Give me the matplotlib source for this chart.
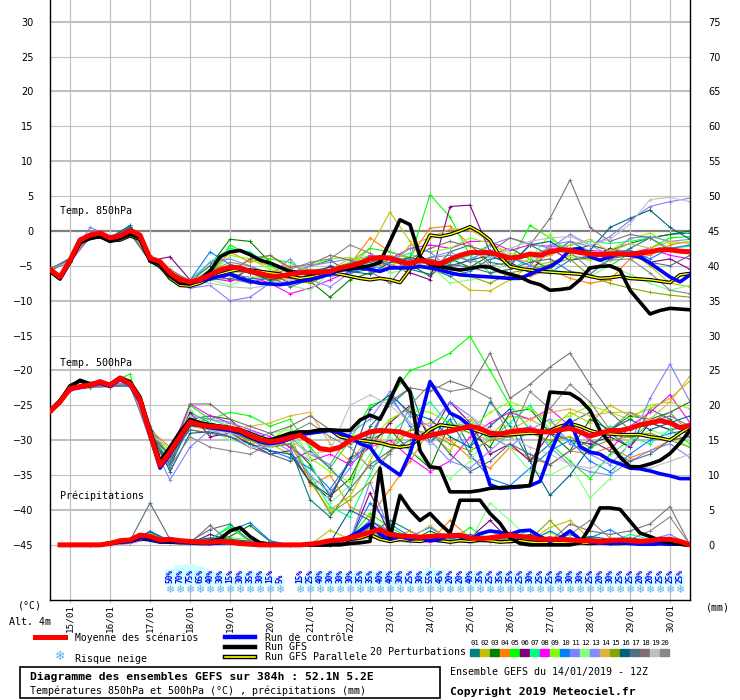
import numpy as np
import matplotlib
matplotlib.use("Agg")
import matplotlib.pyplot as plt
from matplotlib.lines import Line2D
from matplotlib.patches import Rectangle

# time axis (hours from 14/01 12Z)
hours = list(range(0, 385, 6))          # main runs, 6h
hours_p = list(range(6, 385, 6))        # precip of main runs
hours_m = list(range(0, 385, 12))       # perturbations, 12h
hours_mp = list(range(12, 385, 12))     # perturbation precip
date_labels = ["15/01", "16/01", "17/01", "18/01", "19/01", "20/01", "21/01", "22/01",
               "23/01", "24/01", "25/01", "26/01", "27/01", "28/01", "29/01", "30/01"]
date_hours = [12 + 24 * k for k in range(16)]

# ---- 850 hPa ----
t850_mean = [-5.5, -6.6, -4.2, -1.3, -0.6, -0.3, -1.0, -0.7, 0.1, -0.6, -3.9, -4.4, -6.0, -7.0, -7.3, -7.0,
             -6.3, -5.6, -5.2, -5.3, -5.8, -6.1, -6.5, -6.5, -6.2, -6.0, -5.9, -5.9, -5.8, -5.3, -5.0, -4.6,
             -4.0, -3.8, -3.9, -4.4, -4.7, -4.2, -4.5, -4.7, -4.1, -3.5, -3.1, -3.1, -3.1, -3.5, -3.9, -3.7,
             -3.3, -3.5, -3.0, -2.7, -2.8, -3.1, -3.3, -3.4, -3.3, -3.3, -3.3, -3.2, -3.0, -2.7, -2.7, -2.9, -3.0]
t850_gfs = [-5.7, -6.8, -4.4, -1.6, -1.0, -0.8, -1.5, -1.1, -0.5, -1.0, -4.2, -4.8, -6.5, -7.5, -7.6, -7.0,
            -5.8, -3.7, -3.0, -2.8, -3.4, -4.2, -4.6, -5.2, -5.8, -6.0, -6.2, -6.0, -5.8, -5.6, -5.4, -5.2,
            -5.0, -4.5, -1.5, 1.6, 0.9, -3.7, -4.8, -5.1, -5.4, -5.6, -5.4, -5.1, -5.2, -5.8, -6.2, -6.6,
            -7.3, -7.7, -8.5, -8.4, -8.2, -7.0, -5.3, -5.1, -5.0, -5.6, -8.5, -10.2, -11.9, -11.4, -11.1, -11.2, -11.3]
t850_ctl = [-5.6, -6.7, -4.3, -1.4, -0.8, -0.5, -1.2, -0.9, -0.2, -0.8, -4.0, -4.6, -6.3, -7.2, -7.5, -7.2,
            -6.8, -6.5, -6.2, -6.8, -7.2, -7.5, -7.6, -7.7, -7.5, -7.2, -7.0, -6.6, -6.2, -5.6, -5.5, -5.3,
            -5.5, -5.8, -5.3, -5.3, -5.3, -5.1, -5.3, -5.6, -6.0, -6.3, -6.4, -6.5, -6.6, -6.7, -6.8, -6.8,
            -6.2, -5.6, -5.1, -4.2, -2.7, -2.5, -3.7, -4.2, -3.7, -3.3, -3.5, -3.7, -4.6, -5.6, -6.6, -7.3, -6.3]
t850_par = [-5.8, -6.9, -4.5, -1.7, -1.1, -0.8, -1.4, -1.3, -0.7, -1.2, -4.3, -5.0, -6.8, -7.8, -7.9, -7.5,
            -6.8, -6.2, -5.8, -5.5, -5.6, -5.8, -6.0, -6.2, -6.5, -6.8, -6.6, -6.3, -6.0, -6.2, -6.5, -6.8,
            -7.0, -6.8, -7.0, -7.4, -5.5, -3.5, -0.6, -0.8, -0.5, 0.0, 0.6, -0.2, -1.3, -3.7, -5.1, -5.4,
            -5.6, -5.8, -5.9, -6.0, -6.1, -6.2, -6.5, -6.8, -6.7, -6.5, -6.8, -6.9, -7.0, -7.2, -7.4, -6.3, -6.1]

t850_p01 = [-5.8, -4.0, -0.9, -1.2, 0.5, -3.6, -6.2, -7.6, -5.5, -6.0, -6.8, -7.0, -6.5, -5.0, -4.2, -6.0, -5.5, -4.0, -5.5, -6.2, -3.0, -2.0, -4.5, -5.0, -2.0, -3.5, -1.5, -3.0, -4.0, -2.5, -1.0, -0.5, -0.3]
t850_p02 = [-5.4, -4.5, -0.4, -0.8, 0.3, -4.2, -6.5, -7.4, -6.8, -5.5, -4.2, -5.0, -6.8, -7.5, -6.0, -5.2, -2.5, 2.7, -1.5, -5.5, -6.5, -8.5, -8.6, -7.0, -5.0, -4.5, -3.5, -4.0, -2.5, -3.0, -5.0, -7.5, -8.0]
t850_p03 = [-5.6, -4.3, -0.5, -1.1, 0.0, -4.0, -6.8, -7.2, -5.0, -1.2, -1.5, -4.5, -6.0, -7.2, -9.5, -7.0, -6.0, -5.5, -4.8, -6.5, -4.0, -5.2, -3.5, -2.5, -4.0, -5.5, -3.0, -2.0, -2.8, -1.8, -1.0, -0.5, 0.0]
t850_p04 = [-5.5, -4.1, -0.7, -1.0, 0.4, -3.8, -6.4, -7.5, -6.2, -3.0, -4.5, -3.5, -5.5, -6.5, -5.8, -4.8, -1.0, -3.0, -3.8, 0.4, 0.7, -2.0, -5.0, -6.5, -6.5, -5.5, -6.8, -7.5, -7.0, -4.0, -3.5, -2.0, -1.5]
t850_p05 = [-5.3, -4.4, -0.3, -0.8, 0.2, -4.1, -6.0, -7.6, -6.5, -2.0, -3.5, -4.0, -4.5, -6.5, -5.5, -4.5, -2.5, -3.0, -4.0, 5.2, 2.0, -3.5, -2.0, -4.5, 0.8, -1.0, -3.0, -3.5, -5.0, -3.2, -2.5, -1.0, -0.8]
t850_p06 = [-5.7, -4.2, -0.8, -1.3, -0.2, -4.3, -3.7, -7.0, -6.0, -7.0, -5.5, -6.0, -7.5, -6.8, -5.0, -5.5, -3.8, -5.0, -6.0, -7.0, 3.5, 3.7, -3.0, -4.5, -6.0, -2.5, -4.2, -3.8, -2.5, -3.5, -4.5, -4.0, -5.5]
t850_p07 = [-5.5, -4.2, -0.6, -1.0, 0.2, -3.9, -6.1, -7.0, -4.5, -2.5, -3.0, -5.0, -6.0, -5.5, -6.2, -4.5, -3.5, -4.0, -3.2, -5.0, -4.5, -3.5, -6.0, -5.5, -4.0, -3.0, -2.0, -1.5, -1.8, -1.5, -1.0, -2.5, -2.2]
t850_p08 = [-5.6, -4.5, -0.9, -1.1, -0.1, -4.2, -6.3, -7.4, -6.8, -7.2, -6.5, -7.5, -9.0, -8.2, -7.0, -5.8, -3.5, -4.0, -2.5, -2.0, -2.5, -1.5, -1.5, -2.8, -2.0, -2.2, -2.5, -2.8, -3.0, -3.2, -2.5, -3.5, -4.0]
t850_p09 = [-5.4, -4.0, -0.5, -0.9, 0.3, -3.7, -5.8, -7.5, -6.4, -3.5, -4.0, -5.5, -6.5, -5.0, -4.0, -3.8, -4.8, -5.5, -2.0, -3.0, -2.5, -1.0, -1.8, -3.2, -4.0, -0.5, -3.8, -4.2, -2.8, -1.2, -0.3, -1.8, -1.5]
t850_p10 = [-5.5, -3.9, -0.4, -1.0, 0.6, -3.8, -6.3, -7.1, -3.0, -4.8, -5.5, -7.2, -6.0, -5.5, -6.5, -6.0, -5.0, -3.5, -4.5, -5.2, -6.5, -5.8, -4.0, -3.8, -5.0, -6.0, -4.2, -3.5, -3.0, -2.8, -4.0, -2.5, -2.0]
t850_p11 = [-5.5, -4.0, 0.5, -0.7, 0.0, -4.0, -6.5, -8.2, -7.8, -10.0, -9.5, -7.5, -6.0, -5.0, -4.5, -4.0, -5.5, -4.5, -2.5, -3.0, -5.5, -4.0, -2.8, -3.5, -5.0, -2.0, -1.5, -2.2, -0.8, 1.5, 3.5, 4.2, 4.7]
t850_p12 = [-5.6, -4.3, -0.7, -1.2, -0.2, -4.0, -6.8, -7.6, -7.0, -7.8, -6.5, -7.0, -7.8, -8.5, -6.0, -5.5, -4.5, -6.0, -5.5, -5.0, -7.5, -7.0, -6.5, -4.0, -3.5, -5.5, -6.0, -6.5, -5.0, -6.2, -7.5, -8.5, -7.8]
t850_p13 = [-5.5, -4.2, -0.6, -0.9, 0.1, -4.1, -6.2, -7.3, -4.5, -4.0, -5.0, -6.5, -4.0, -7.0, -8.0, -6.0, -5.0, -5.5, -4.5, -3.8, -3.0, -4.5, -2.0, -1.0, -1.8, -2.5, -0.5, -2.0, -3.5, -1.0, -0.8, -1.5, -1.2]
t850_p14 = [-5.4, -4.1, -0.5, -1.0, 0.2, -3.9, -5.9, -7.0, -6.0, -5.2, -5.8, -6.0, -5.0, -5.5, -5.5, -4.0, -3.8, -5.5, -2.0, -1.0, 0.3, 0.2, -1.5, -3.8, -4.5, -3.5, -2.0, -1.2, -3.0, -1.8, -2.5, -1.5, -1.8]
t850_p15 = [-5.6, -4.4, -0.8, -1.1, 0.0, -4.2, -6.6, -7.5, -6.5, -5.8, -6.0, -7.2, -6.8, -7.5, -6.2, -5.0, -4.2, -4.5, -4.8, -5.5, -5.0, -6.5, -7.5, -6.0, -5.5, -4.8, -4.0, -6.5, -7.5, -8.2, -8.8, -9.2, -9.5]
t850_p16 = [-5.5, -4.0, -0.6, -1.0, 0.8, -3.5, -6.0, -7.2, -6.5, -5.5, -6.0, -7.0, -6.5, -5.8, -5.2, -5.8, -6.2, -4.5, -3.8, -4.5, -5.0, -4.2, -3.5, -4.8, -2.0, -1.5, -3.2, -2.8, 0.5, 1.8, 3.0, 0.5, -1.2]
t850_p17 = [-5.7, -4.3, -0.7, -1.2, -0.3, -4.4, -6.4, -7.7, -7.0, -6.8, -7.5, -6.5, -8.0, -7.0, -6.0, -5.2, -4.5, -3.8, -4.2, -4.0, -4.8, -5.2, -6.0, -5.5, -4.5, -4.0, -5.8, -6.2, -4.0, -3.5, -4.5, -5.0, -3.5]
t850_p18 = [-5.4, -4.2, -0.8, -0.9, 0.0, -4.0, -5.5, -7.2, -6.2, -6.0, -4.0, -3.5, -5.2, -4.8, -3.5, -4.2, -5.8, -7.5, -4.0, -2.5, -1.5, -2.2, -3.0, -1.0, -2.0, 1.8, 7.3, 0.5, -1.5, -0.5, -1.0, -2.8, -3.2]
t850_p19 = [-5.5, -4.4, -0.6, -1.3, 0.2, -4.1, -6.5, -7.0, -7.5, -8.0, -8.2, -7.8, -7.0, -6.5, -5.5, -5.0, -4.0, -3.5, -5.0, -4.5, -4.0, -3.0, -3.8, -2.5, -1.5, -1.0, -0.8, -2.0, -1.2, 1.0, 4.5, 4.8, 4.2]
t850_p20 = [-5.6, -4.1, -0.7, -1.1, -0.1, -3.8, -6.2, -7.3, -5.8, -4.5, -5.0, -6.2, -5.5, -4.5, -4.0, -2.0, -3.2, -4.8, -5.5, -3.8, -3.5, -4.2, -5.0, -4.5, -3.5, -2.5, -3.0, -5.5, -4.2, -4.0, -6.0, -8.5, -9.0]

# ---- 500 hPa ----
t500_mean = [-25.9, -24.5, -22.6, -22.3, -22.1, -21.6, -22.1, -21.1, -21.9, -24.2, -29.0, -33.6, -31.7, -29.5, -27.4, -27.8,
             -28.0, -28.1, -28.3, -28.6, -29.3, -29.9, -30.2, -30.0, -29.6, -29.3, -30.2, -31.2, -31.4, -31.0, -30.0, -29.4,
             -28.8, -28.6, -28.7, -28.8, -29.3, -29.7, -29.3, -29.0, -28.7, -28.3, -28.0, -28.3, -29.0, -29.1, -28.8, -28.6,
             -28.5, -28.8, -28.8, -28.5, -28.3, -28.8, -29.4, -29.0, -28.6, -28.6, -28.3, -27.8, -27.5, -27.2, -27.5, -28.2, -27.9]
t500_gfs = [-25.8, -24.3, -22.4, -21.4, -21.9, -21.7, -22.0, -21.0, -21.6, -23.8, -28.5, -33.0, -31.0, -28.8, -27.0, -27.5,
            -27.8, -28.0, -28.3, -28.8, -29.5, -30.0, -30.0, -29.5, -29.0, -28.8, -28.8, -28.6, -28.5, -28.6, -28.6, -27.1,
            -26.4, -27.0, -24.2, -21.1, -23.1, -31.5, -33.8, -34.0, -37.4, -37.4, -37.4, -37.2, -36.9, -36.8, -36.7, -36.6,
            -36.5, -30.0, -23.1, -23.2, -23.3, -24.2, -25.7, -28.6, -30.4, -32.4, -33.8, -33.8, -33.4, -32.9, -31.9, -30.4, -28.6]
t500_ctl = [-25.9, -24.6, -22.7, -22.4, -22.2, -21.8, -22.3, -21.3, -22.0, -24.5, -29.3, -34.0, -32.0, -29.8, -27.6, -27.9,
            -28.2, -28.4, -28.6, -28.9, -29.6, -30.2, -30.5, -30.3, -29.8, -29.2, -29.0, -28.8, -28.6, -29.0, -29.5, -30.5,
            -31.0, -33.0, -34.0, -35.0, -31.9, -27.1, -21.6, -23.8, -26.1, -26.8, -28.0, -31.9, -36.4, -36.9, -36.8, -36.7,
            -36.5, -35.9, -31.9, -28.6, -27.1, -30.9, -31.7, -32.0, -32.9, -33.4, -34.0, -34.1, -34.4, -34.8, -35.1, -35.5, -35.5]
t500_par = [-25.8, -24.4, -22.2, -21.5, -22.0, -21.8, -22.2, -21.2, -21.8, -24.0, -28.8, -33.2, -31.5, -29.2, -27.3, -27.6,
            -27.8, -28.0, -28.2, -28.5, -29.0, -29.6, -30.0, -29.8, -29.5, -29.0, -28.8, -28.5, -28.5, -29.5, -29.8, -30.0,
            -30.2, -30.4, -30.8, -31.0, -30.8, -29.7, -28.5, -27.8, -28.0, -28.2, -28.3, -28.8, -29.3, -29.3, -29.2, -29.1,
            -29.0, -29.0, -28.6, -28.0, -27.6, -28.0, -28.6, -29.0, -29.1, -29.2, -29.2, -29.2, -29.5, -29.7, -30.0, -29.0, -28.1]

t500_p01 = [-25.8, -22.5, -22.0, -21.8, -22.0, -28.0, -32.5, -26.0, -27.5, -28.5, -30.0, -29.0, -31.0, -38.5, -41.0, -37.0, -28.0, -25.0, -22.5, -30.5, -26.0, -31.0, -24.5, -28.0, -33.0, -30.5, -27.5, -26.0, -29.0, -31.0, -25.5, -27.0, -29.5]
t500_p02 = [-25.5, -22.8, -22.3, -22.0, -21.8, -29.5, -33.0, -28.0, -28.5, -27.5, -29.0, -30.5, -32.0, -36.0, -40.0, -38.0, -33.0, -27.0, -25.5, -29.0, -31.5, -27.0, -29.5, -26.5, -27.0, -28.5, -26.0, -27.5, -25.0, -26.5, -25.5, -24.0, -21.5]
t500_p03 = [-26.0, -22.4, -22.2, -22.3, -21.5, -29.0, -34.0, -27.0, -26.5, -27.0, -29.5, -31.0, -30.5, -33.5, -38.0, -35.5, -30.0, -28.5, -31.5, -34.0, -27.5, -29.0, -31.0, -26.0, -25.5, -29.0, -31.5, -27.0, -28.5, -26.5, -27.0, -26.0, -24.5]
t500_p04 = [-25.7, -22.6, -22.1, -22.0, -22.2, -28.5, -31.0, -28.5, -29.0, -28.0, -30.5, -30.0, -29.0, -36.5, -35.0, -39.5, -41.0, -37.0, -33.0, -28.5, -30.0, -32.5, -34.0, -31.0, -32.5, -33.5, -31.5, -32.0, -31.0, -32.5, -31.5, -30.0, -29.5]
t500_p05 = [-25.9, -22.3, -22.5, -21.9, -20.5, -29.8, -32.0, -25.0, -27.0, -26.0, -26.5, -28.0, -27.0, -31.0, -34.0, -30.0, -25.0, -24.0, -20.0, -19.0, -17.5, -15.1, -20.0, -25.0, -28.5, -30.5, -33.0, -35.5, -32.0, -30.0, -27.5, -28.5, -30.5]
t500_p06 = [-25.6, -22.7, -22.2, -22.1, -22.0, -28.7, -33.5, -26.0, -29.5, -29.0, -30.5, -32.0, -31.5, -36.0, -38.5, -32.5, -31.0, -27.5, -25.0, -29.5, -24.5, -27.5, -32.0, -30.5, -33.0, -29.0, -30.0, -30.5, -29.5, -31.0, -27.5, -28.5, -28.0]
t500_p07 = [-25.8, -22.5, -21.8, -22.2, -21.7, -29.3, -32.8, -27.5, -27.0, -28.0, -29.5, -30.5, -30.0, -35.0, -39.5, -41.0, -35.0, -29.0, -26.5, -24.5, -28.0, -27.5, -30.0, -27.5, -25.0, -28.5, -30.0, -31.5, -28.0, -29.5, -30.5, -28.5, -27.5]
t500_p08 = [-26.0, -22.9, -22.4, -22.3, -22.1, -29.5, -32.0, -24.8, -26.5, -27.5, -28.5, -29.5, -31.0, -33.0, -32.0, -33.5, -31.0, -30.0, -32.5, -34.5, -33.0, -29.5, -27.5, -26.0, -27.0, -25.5, -28.0, -30.0, -31.5, -28.0, -26.0, -23.5, -27.5]
t500_p09 = [-25.7, -22.6, -22.0, -22.0, -21.9, -28.8, -31.5, -27.0, -27.5, -28.2, -29.0, -30.0, -28.0, -32.5, -34.5, -36.0, -30.0, -27.0, -25.5, -26.0, -27.5, -28.5, -26.0, -24.5, -25.5, -27.5, -26.5, -25.0, -26.0, -27.0, -25.0, -24.5, -25.5]
t500_p10 = [-25.9, -22.4, -22.1, -22.2, -22.3, -29.2, -33.5, -28.0, -28.0, -28.8, -29.8, -31.5, -32.5, -34.0, -37.0, -33.0, -30.5, -23.5, -28.0, -30.5, -27.0, -32.0, -35.5, -36.5, -34.0, -31.5, -30.0, -33.0, -34.5, -32.0, -30.0, -29.0, -28.5]
t500_p11 = [-25.8, -22.7, -22.3, -22.0, -22.0, -29.8, -35.7, -31.0, -28.5, -29.5, -31.0, -30.5, -29.5, -32.0, -33.5, -29.0, -27.0, -23.0, -26.5, -28.0, -24.5, -26.5, -29.5, -31.0, -28.5, -27.0, -30.5, -32.0, -33.5, -30.5, -24.0, -19.1, -24.5]
t500_p12 = [-26.0, -22.5, -22.2, -22.1, -22.0, -29.0, -32.0, -25.5, -28.5, -30.0, -30.5, -29.0, -28.5, -33.0, -39.0, -36.5, -32.0, -29.5, -31.5, -33.5, -35.5, -33.0, -29.0, -31.0, -34.5, -35.0, -33.5, -38.3, -35.5, -30.0, -28.5, -29.5, -31.0]
t500_p13 = [-25.6, -22.6, -22.0, -21.9, -21.8, -28.5, -32.5, -26.5, -27.0, -27.5, -28.5, -30.0, -31.5, -35.0, -37.5, -34.0, -29.5, -24.0, -27.5, -30.0, -33.0, -34.0, -31.5, -29.0, -28.0, -31.0, -33.5, -34.5, -35.0, -33.0, -31.5, -30.5, -32.5]
t500_p14 = [-25.8, -22.4, -22.2, -22.0, -22.1, -29.4, -31.8, -27.5, -28.0, -28.5, -28.0, -27.5, -26.5, -26.0, -30.5, -33.0, -29.5, -30.5, -28.5, -27.5, -28.0, -29.0, -30.0, -28.5, -27.0, -26.0, -25.5, -26.5, -26.0, -26.0, -27.0, -24.5, -20.8]
t500_p15 = [-25.9, -22.6, -22.3, -22.2, -21.9, -29.1, -32.3, -27.8, -28.3, -29.0, -30.0, -31.0, -30.5, -35.5, -40.5, -38.5, -36.0, -31.5, -28.5, -29.0, -30.5, -31.5, -30.0, -29.5, -29.0, -30.0, -29.5, -31.0, -30.0, -29.5, -29.0, -30.0, -31.0]
t500_p16 = [-25.7, -22.5, -22.1, -22.0, -22.2, -28.6, -34.5, -29.0, -28.8, -29.5, -30.5, -31.5, -32.0, -36.0, -38.0, -33.0, -25.5, -23.5, -26.0, -27.0, -29.5, -31.0, -28.0, -25.5, -33.0, -37.9, -35.0, -31.0, -28.5, -27.0, -28.5, -27.5, -26.5]
t500_p17 = [-25.8, -22.7, -22.2, -22.1, -22.0, -29.0, -32.2, -28.5, -29.0, -29.5, -31.0, -32.0, -33.0, -31.5, -34.0, -37.0, -33.5, -31.5, -30.0, -28.5, -32.0, -34.5, -33.0, -30.5, -32.0, -33.5, -31.5, -30.0, -31.5, -33.0, -32.0, -30.0, -29.5]
t500_p18 = [-25.6, -22.8, -22.4, -22.3, -22.1, -29.6, -33.0, -24.8, -24.8, -27.0, -28.0, -29.0, -28.0, -26.5, -28.5, -30.5, -29.5, -24.5, -22.5, -23.0, -21.5, -22.5, -17.5, -24.0, -22.0, -19.5, -17.5, -22.0, -26.0, -28.5, -27.5, -26.5, -28.0]
t500_p19 = [-25.9, -22.4, -22.0, -22.1, -21.8, -29.3, -31.0, -26.5, -28.5, -29.0, -31.0, -31.0, -30.0, -32.0, -31.5, -25.0, -23.5, -25.0, -27.5, -30.5, -28.5, -26.5, -28.5, -29.5, -31.0, -32.0, -33.5, -34.0, -33.0, -33.5, -34.0, -33.0, -32.0]
t500_p20 = [-25.8, -22.6, -22.3, -22.0, -21.9, -30.0, -33.8, -29.5, -31.0, -31.5, -32.0, -30.5, -29.0, -27.5, -29.5, -31.0, -34.0, -32.0, -25.0, -22.0, -23.0, -22.5, -24.0, -29.5, -23.0, -25.5, -22.0, -24.5, -28.5, -26.0, -27.5, -26.0, -29.0]

# ---- precipitation (mm) ----
pr_mean = [0.0, 0.0, 0.0, 0.0, 0.0, 0.2, 0.6, 0.7, 1.4, 1.2, 0.7, 0.8, 0.6, 0.5, 0.4, 0.4,
           0.5, 0.4, 0.2, 0.1, 0.0, 0.0, 0.0, 0.0, 0.0, 0.1, 0.3, 0.6, 0.7, 1.0, 1.4, 1.8,
           2.2, 1.5, 1.3, 1.2, 1.1, 1.2, 1.3, 1.3, 1.4, 1.0, 0.9, 1.0, 1.2, 1.4, 1.2, 1.1,
           0.8, 0.8, 0.8, 0.7, 0.6, 0.6, 0.5, 0.6, 0.7, 0.6, 0.5, 0.6, 0.8, 0.8, 0.5, 0.0]
pr_gfs = [0, 0, 0, 0, 0, 0.3, 0.5, 0.6, 1.2, 1.0, 0.6, 0.6, 0.5, 0.4, 0.4, 0.5,
          0.8, 2.0, 2.5, 1.2, 0.3, 0.1, 0, 0, 0, 0, 0, 0, 0, 0.2, 0.3, 0.5,
          11.0, 1.0, 7.1, 5.0, 3.5, 4.5, 3.0, 1.7, 6.4, 6.4, 6.4, 4.5, 3.1, 1.0, 0.2, 0,
          0, 0, 0, 0, 0.3, 2.5, 5.3, 5.3, 5.1, 3.4, 1.7, 1.2, 0.6, 0.3, 0.1, 0]
pr_ctl = [0, 0, 0, 0, 0, 0.2, 0.4, 0.5, 1.0, 0.8, 0.5, 0.5, 0.4, 0.3, 0.3, 0.2,
          0.3, 0.4, 0.2, 0.1, 0, 0, 0, 0, 0, 0, 0, 0.2, 0.5, 1.2, 2.0, 3.0,
          1.5, 0.8, 1.2, 0.8, 1.0, 0.6, 0.8, 1.5, 1.2, 0.8, 1.6, 2.0, 1.8, 1.5, 2.0, 2.1,
          1.2, 0.5, 1.0, 2.0, 0.8, 0.4, 0.3, 0.2, 0.3, 0.2, 0.1, 0.1, 0.2, 0.1, 0.1, 0]
pr_par = [0, 0, 0, 0, 0, 0.2, 0.4, 0.5, 0.9, 0.7, 0.4, 0.4, 0.3, 0.3, 0.2, 0.2,
          0.3, 0.3, 0.2, 0.1, 0, 0, 0, 0, 0, 0, 0, 0, 0.3, 0.8, 1.0, 1.5,
          0.8, 0.5, 0.8, 0.6, 0.5, 0.8, 0.6, 0.4, 0.6, 0.5, 0.7, 0.6, 0.4, 0.5, 0.6, 0.4,
          0.3, 0.4, 0.3, 0.4, 0.3, 0.2, 0.3, 0.2, 0.2, 0.3, 0.2, 0.1, 0.2, 0.1, 0.1, 0]

pr_p01 = [0, 0, 0, 0.3, 1.0, 0.3, 0.2, 0.5, 0.8, 0.2, 0, 0, 0, 0, 0.5, 1.5, 3.5, 2.0, 0.5, 1.0, 0.3, 0.8, 0.5, 1.2, 0.3, 0.5, 0.2, 0.8, 0.3, 0.6, 0.2, 0]
pr_p02 = [0, 0, 0, 0.5, 1.5, 0.4, 0.3, 0.2, 0.5, 0.3, 0.1, 0, 0, 2.1, 0.8, 3.0, 1.2, 0.6, 1.5, 0.5, 0.8, 2.0, 0.4, 0.6, 2.5, 3.5, 0.8, 0.5, 1.0, 0.3, 0.5, 0]
pr_p03 = [0, 0, 0, 0.4, 1.2, 0.5, 0.4, 0.6, 1.2, 2.8, 0.5, 0, 0, 0, 0.8, 2.5, 1.0, 0.5, 2.0, 0.8, 0.5, 1.2, 0.3, 0.8, 0.6, 1.5, 0.4, 0.3, 0.8, 0.4, 0.3, 0]
pr_p04 = [0, 0, 0, 0.3, 0.8, 0.2, 0.3, 0.4, 0.3, 0.5, 0.2, 0, 0, 0, 0.3, 1.2, 0.8, 2.0, 0.5, 3.5, 1.0, 0.4, 1.8, 0.5, 0.3, 0.6, 0.2, 0.4, 0.5, 0.2, 0.1, 0]
pr_p05 = [0, 0, 0, 0.5, 1.8, 0.5, 0.6, 0.8, 2.5, 0.5, 0.2, 0, 0, 0, 1.0, 4.5, 2.5, 1.0, 0.8, 0.5, 2.5, 0.6, 1.2, 0.4, 0.3, 0.8, 1.0, 0.5, 0.3, 0.8, 0.4, 0]
pr_p06 = [0, 0, 0, 0.4, 1.4, 0.3, 0.2, 1.5, 0.6, 0.3, 0.1, 0, 0, 0, 0.5, 7.5, 1.5, 0.8, 0.5, 0.4, 1.0, 3.5, 0.6, 0.5, 0.8, 0.3, 0.5, 0.6, 0.2, 0.4, 0.3, 0]
pr_p07 = [0, 0, 0, 0.3, 1.1, 0.4, 0.5, 0.7, 2.8, 0.4, 0.3, 0, 0, 0, 0.6, 1.8, 0.7, 0.4, 1.2, 0.6, 0.5, 1.0, 0.8, 2.2, 0.4, 0.5, 0.8, 0.3, 1.5, 0.8, 0.4, 0]
pr_p08 = [0, 0, 0, 0.2, 0.9, 0.3, 0.2, 0.3, 0.4, 0.2, 0, 0, 0, 0, 0.4, 3.0, 1.2, 0.6, 0.4, 1.6, 0.5, 0.8, 1.8, 0.4, 1.2, 0.3, 0.4, 0.2, 0.6, 0.3, 0.5, 0]
pr_p09 = [0, 0, 0, 0.4, 1.6, 0.5, 0.3, 0.6, 1.0, 0.8, 0.2, 0, 0, 0, 0.7, 2.2, 0.9, 1.5, 0.6, 0.8, 0.4, 0.6, 0.5, 0.8, 1.8, 0.4, 0.6, 0.8, 0.4, 0.5, 0.6, 0]
pr_p10 = [0, 0, 0, 0.5, 1.3, 0.4, 0.4, 0.5, 2.0, 3.2, 0.6, 0, 0, 0, 0.8, 6.0, 3.0, 1.2, 2.5, 0.8, 1.5, 0.6, 0.8, 0.5, 2.0, 0.6, 1.0, 2.2, 0.5, 0.4, 0.3, 0]
pr_p11 = [0, 0, 0, 0.3, 2.0, 0.6, 0.4, 0.8, 0.5, 0.3, 0.2, 0, 0, 0, 0.6, 9.0, 2.0, 0.8, 1.0, 0.6, 0.8, 0.5, 0.4, 0.6, 0.5, 0.4, 0.6, 0.3, 0.5, 0.8, 1.5, 0]
pr_p12 = [0, 0, 0, 0.4, 1.0, 0.3, 0.3, 0.4, 0.6, 0.4, 0.1, 0, 0, 0, 0.5, 2.0, 0.8, 0.5, 0.7, 0.5, 0.4, 6.0, 3.5, 0.8, 0.6, 0.4, 0.3, 0.5, 0.4, 0.6, 0.2, 0]
pr_p13 = [0, 0, 0, 0.3, 1.2, 0.4, 0.3, 0.5, 0.8, 0.5, 0.2, 0, 0, 0, 0.6, 2.8, 1.5, 0.6, 0.5, 0.7, 1.0, 0.5, 0.8, 0.4, 0.6, 1.0, 0.5, 0.4, 0.6, 0.3, 0.4, 0]
pr_p14 = [0, 0, 0, 0.4, 1.4, 0.4, 0.3, 0.4, 0.6, 0.3, 0.2, 0, 0, 0, 0.4, 1.5, 1.0, 0.8, 2.8, 0.6, 0.5, 0.8, 0.6, 0.5, 0.4, 0.8, 0.6, 0.5, 0.3, 0.4, 0.5, 0]
pr_p15 = [0, 0, 0, 0.5, 1.1, 0.3, 0.4, 0.6, 0.5, 0.4, 0.2, 0, 0, 0, 0.5, 1.2, 0.6, 0.5, 0.8, 0.4, 0.6, 0.5, 1.0, 0.8, 3.5, 0.6, 0.4, 0.5, 0.6, 0.5, 0.4, 0]
pr_p16 = [0, 0, 0, 0.4, 1.9, 0.5, 0.6, 1.0, 0.8, 0.5, 0.3, 0, 0, 0.3, 5.0, 3.5, 1.5, 0.8, 0.6, 1.2, 0.8, 0.5, 0.6, 1.5, 0.8, 0.5, 1.2, 0.8, 1.0, 0.6, 0.5, 0]
pr_p17 = [0, 0, 0, 0.6, 6.0, 0.8, 0.5, 2.2, 3.0, 0.6, 0.3, 0, 0, 0, 1.0, 3.5, 2.0, 1.0, 0.8, 0.6, 0.5, 1.0, 0.6, 0.5, 0.6, 0.4, 0.8, 0.5, 0.4, 0.3, 0.5, 0]
pr_p18 = [0, 0, 0, 0.3, 1.0, 0.4, 0.3, 2.8, 0.4, 0.3, 0.1, 0, 0, 0, 0.4, 1.5, 0.8, 0.6, 0.5, 0.4, 0.6, 0.5, 0.4, 0.6, 0.5, 3.0, 2.0, 1.5, 2.0, 3.0, 5.5, 0]
pr_p19 = [0, 0, 0, 0.3, 0.9, 0.3, 0.4, 0.3, 0.5, 0.3, 0.2, 0, 0, 0, 0.3, 1.0, 0.5, 0.4, 0.6, 0.5, 0.3, 0.4, 0.3, 0.5, 0.4, 0.6, 0.3, 0.4, 0.5, 0.3, 0.4, 0]
pr_p20 = [0, 0, 0, 0.4, 1.5, 0.5, 0.4, 0.7, 0.6, 0.4, 0.2, 0, 0, 0, 0.6, 2.5, 1.2, 0.8, 1.5, 0.6, 0.8, 0.6, 1.0, 0.5, 0.8, 1.5, 3.5, 1.0, 0.8, 2.0, 4.0, 0]

# ---- snow risk (%) ----
snow_hours = list(range(72, 139, 6)) + list(range(150, 379, 6))
snow_pct = [50, 70, 75, 65, 40, 30, 15, 30, 35, 30, 15, 5,
            15, 25, 40, 30, 30, 30, 35, 35, 40, 40, 30, 25, 30,
            55, 45, 20, 20, 40, 35, 25, 35, 35, 25, 30, 25, 25, 30, 30, 30, 25, 20, 30, 25, 25, 20, 20, 25, 25, 25]

pert_colors = ["#008080", "#c0c000", "#008000", "#ff8000", "#00ff00", "#800080", "#00ff80", "#ff00ff",
               "#80ff00", "#0080ff", "#8080ff", "#80ff80", "#8888ff", "#e0b040", "#80a800", "#006080",
               "#507080", "#807070", "#c0c0c0", "#888888"]

t850_members = [t850_p01, t850_p02, t850_p03, t850_p04, t850_p05, t850_p06, t850_p07, t850_p08, t850_p09, t850_p10,
                t850_p11, t850_p12, t850_p13, t850_p14, t850_p15, t850_p16, t850_p17, t850_p18, t850_p19, t850_p20]
t500_members = [t500_p01, t500_p02, t500_p03, t500_p04, t500_p05, t500_p06, t500_p07, t500_p08, t500_p09, t500_p10,
                t500_p11, t500_p12, t500_p13, t500_p14, t500_p15, t500_p16, t500_p17, t500_p18, t500_p19, t500_p20]
pr_members = [pr_p01, pr_p02, pr_p03, pr_p04, pr_p05, pr_p06, pr_p07, pr_p08, pr_p09, pr_p10,
              pr_p11, pr_p12, pr_p13, pr_p14, pr_p15, pr_p16, pr_p17, pr_p18, pr_p19, pr_p20]

MONO = "DejaVu Sans Mono"
PR_OFF = 45  # precip drawn on the same scale, 0 mm at -45

fig = plt.figure(figsize=(7.4, 7.0), dpi=100)
fig.patch.set_facecolor("white")
ax = fig.add_axes([50 / 740, 100 / 700, 640 / 740, 600 / 700])
ax.set_xlim(0, 384)
ax.set_ylim(-52.9, 33.1)

# grid
for v in range(-45, 31, 5):
    if v == 0:
        ax.axhline(v, color="#808080", lw=1.6, zorder=1)
    else:
        ax.axhline(v, color="#c0c0c0", lw=1.5 if v % 10 == 0 else 0.8, zorder=1)
for h in date_hours:
    ax.axvline(h, color="#c0c0c0", lw=0.9, zorder=1)

# perturbations
for col, a, b, c in zip(pert_colors, t850_members, t500_members, pr_members):
    kw = dict(color=col, lw=0.8, marker="+", ms=3, mew=0.6, zorder=2)
    ax.plot(hours_m, a, **kw)
    ax.plot(hours_m, b, **kw)
    ax.plot(hours_mp, [v - PR_OFF for v in c], **kw)

# main runs
for t850, t500, pr, col, lw, z in [(t850_par, t500_par, pr_par, "black", 2.6, 3),
                                   (t850_ctl, t500_ctl, pr_ctl, "#0000ff", 2.6, 4),
                                   (t850_gfs, t500_gfs, pr_gfs, "black", 2.6, 5),
                                   (t850_mean, t500_mean, pr_mean, "#ff0000", 3.6, 7)]:
    ax.plot(hours, t850, color=col, lw=lw, zorder=z, solid_joinstyle="round")
    ax.plot(hours, t500, color=col, lw=lw, zorder=z, solid_joinstyle="round")
    ax.plot(hours_p, [v - PR_OFF for v in pr], color=col, lw=lw, zorder=z, solid_joinstyle="round")
    if z == 3:  # yellow core of the parallel run
        ax.plot(hours, t850, color="#ffff00", lw=1.0, zorder=3.5)
        ax.plot(hours, t500, color="#ffff00", lw=1.0, zorder=3.5)
        ax.plot(hours_p, [v - PR_OFF for v in pr], color="#ffff00", lw=1.0, zorder=3.5)

# snow risk row
ax.bar(snow_hours, [0.8 + p * 0.03 for p in snow_pct], width=6, bottom=-50.8, color="#ccffff", zorder=1.5)
for h, p in zip(snow_hours, snow_pct):
    ax.text(h, -50.5, f"{p}%", rotation=90, ha="center", va="bottom", color="#0000ff",
            fontsize=5.6, family=MONO, fontweight="bold", zorder=8)
    ax.text(h, -51.4, "\u2744", ha="center", va="center", color="#5ab4ec", fontsize=8, zorder=8)

# panel labels
ax.text(6, 2.9, "Temp. 850hPa", fontsize=7.2, family=MONO, va="center")
ax.text(6, -19.0, "Temp. 500hPa", fontsize=7.2, family=MONO, va="center")
ax.text(6, -38.0, "Précipitations", fontsize=7.2, family=MONO, va="center")

# axes
ax.spines["top"].set_visible(False)
for s in ["left", "right", "bottom"]:
    ax.spines[s].set_color("black")
    ax.spines[s].set_linewidth(1.0)
ax.set_yticks(range(-45, 31, 5))
ax.tick_params(axis="y", length=0, pad=12, labelsize=7)
ax.set_xticks(date_hours)
ax.set_xticklabels(date_labels, rotation=90, family=MONO, fontsize=6.7)
ax.tick_params(axis="x", length=2, color="#c0c0c0", pad=0.5)
sec = ax.secondary_yaxis("right", functions=(lambda v: v + PR_OFF, lambda v: v - PR_OFF))
sec.set_yticks(range(0, 76, 5))
sec.tick_params(length=0, pad=13, labelsize=7)
sec.spines["right"].set_visible(False)


def fx(x):
    return x / 740


def fy(y):
    return 1 - y / 700


fig.text(fx(30), fy(606), "(°C)", ha="center", va="center", fontsize=7.2, family=MONO)
fig.text(fx(30), fy(622), "Alt. 4m", ha="center", va="center", fontsize=7.2, family=MONO)
fig.text(fx(718), fy(607), "(mm)", ha="center", va="center", fontsize=7.2, family=MONO)

# legend
fig.add_artist(Line2D([fx(35), fx(65)], [fy(637), fy(637)], color="#ff0000", lw=3.6))
fig.text(fx(75), fy(638), "Moyenne des scénarios", va="center", fontsize=7.0, family=MONO)
fig.text(fx(60), fy(657), "\u2744", ha="center", va="center", color="#5ab4ec", fontsize=9)
fig.text(fx(75), fy(659), "Risque neige", va="center", fontsize=7.2, family=MONO)
fig.add_artist(Line2D([fx(225), fx(255)], [fy(637), fy(637)], color="#0000ff", lw=3.2))
fig.text(fx(265), fy(638), "Run de contrôle", va="center", fontsize=7.0, family=MONO)
fig.add_artist(Line2D([fx(225), fx(255)], [fy(647), fy(647)], color="black", lw=3.2))
fig.text(fx(265), fy(647), "Run GFS", va="center", fontsize=7.2, family=MONO)
fig.add_artist(Line2D([fx(225), fx(255)], [fy(657), fy(657)], color="black", lw=3.2))
fig.add_artist(Line2D([fx(225), fx(255)], [fy(657), fy(657)], color="#ffff00", lw=1.2))
fig.text(fx(265), fy(657), "Run GFS Parallele", va="center", fontsize=7.2, family=MONO)
fig.text(fx(370), fy(652), "20 Perturbations", va="center", fontsize=7.2, family=MONO)
for i, col in enumerate(pert_colors):
    fig.add_artist(Rectangle((fx(470 + 10 * i), fy(656)), 9 / 740, 7 / 700, color=col))
    fig.text(fx(475 + 10 * i), fy(643), f"{i + 1:02d}", ha="center", va="center",
             fontsize=5.2, family=MONO)

fig.add_artist(Rectangle((fx(20), fy(698)), 420 / 740, 31 / 700, fill=False, ec="black", lw=1.2))
fig.text(fx(30), fy(677), "Diagramme des ensembles GEFS sur 384h : 52.1N 5.2E", va="center",
         fontsize=8.2, family=MONO, fontweight="bold")
fig.text(fx(30), fy(691), "Températures 850hPa et 500hPa (°C) , précipitations (mm)", va="center",
         fontsize=7.2, family=MONO)
fig.text(fx(450), fy(672), "Ensemble GEFS du 14/01/2019 - 12Z", va="center", fontsize=7.2, family=MONO)
fig.text(fx(450), fy(692), "Copyright 2019 Meteociel.fr", va="center", fontsize=8.2, family=MONO,
         fontweight="bold")

fig.savefig("out.png", dpi=100)
